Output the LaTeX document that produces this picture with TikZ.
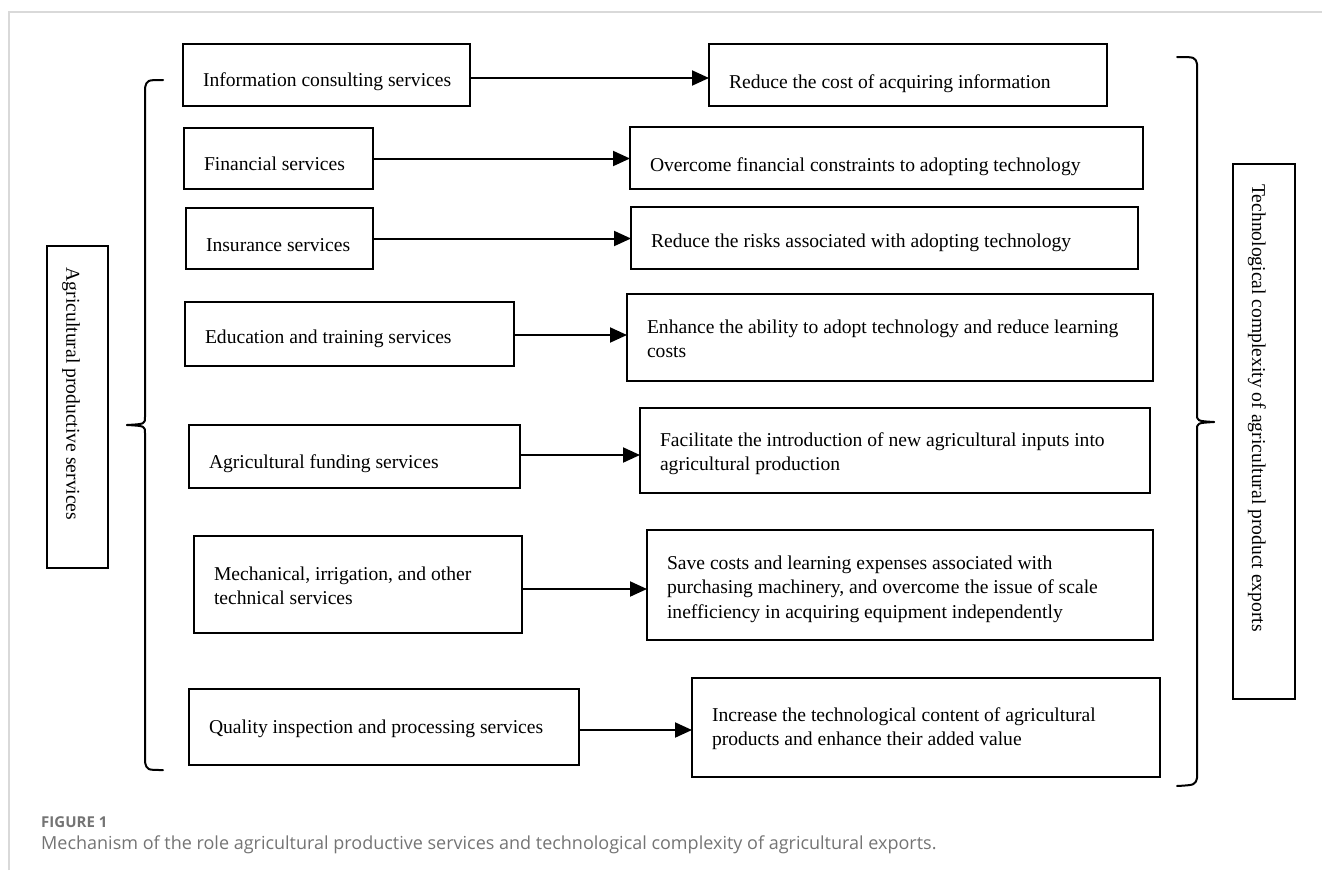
\documentclass[tikz,border=0pt]{standalone}
\usepackage{fontspec}
\setmainfont{Liberation Serif}
\newfontfamily\capfont{Open Sans}
\usetikzlibrary{arrows.meta}
\definecolor{capgray}{HTML}{747474}
\definecolor{framegray}{HTML}{D9D9D9}
\tikzset{
  box/.style={draw=black, line width=1.2pt, inner xsep=20pt, inner ysep=0pt, outer sep=0pt,
    font=\fontsize{19.6}{24.5}\selectfont},
  vbox/.style={draw=black, line width=1.2pt, inner sep=0pt, outer sep=0pt},
  vtext/.style={rotate=-90, inner sep=0pt, font=\fontsize{19.6}{24}\selectfont},
  arr/.style={line width=2pt, -{Triangle[length=17pt,width=15pt]}},
  brace/.style={line width=2pt, line cap=round, line join=round},
}
% name, x1, y1, x2, y2, text shift down, text
\newcommand{\mybox}[7]{%
  \pgfmathsetmacro\bw{#4-#2}\pgfmathsetmacro\bh{#5-#3}\pgfmathsetmacro\tw{#4-#2-40}%
  \node[box, minimum width=\bw pt, minimum height=\bh pt] (#1) at ({(#2+#4)/2},{(#3+#5)/2})
   {\raisebox{-#6pt}[\height][\depth]{\makebox[\tw pt][l]{\begin{tabular}{@{}l@{}}#7\end{tabular}}}};}
\begin{document}
\begin{tikzpicture}[x=1pt,y=-1pt]
\useasboundingbox (0,0) rectangle (1322,870);
% frame
\draw[framegray, line width=1.5pt] (9,870) -- (9,12) -- (1322,12);
% left column
\mybox{a1}{183}{44}{470}{106}{7}{Information consulting services}
\mybox{a2}{184}{128}{373}{189}{7}{Financial services}
\mybox{a3}{186}{208}{373}{269}{8}{Insurance services}
\mybox{a4}{185}{302}{514}{366}{5}{Education and training services}
\mybox{a5}{189}{425}{520}{488}{7}{Agricultural funding services}
\mybox{a6}{194}{536}{522}{633}{3}{Mechanical, irrigation, and other\\technical services}
\mybox{a7}{189}{689}{579}{765}{2}{Quality inspection and processing services}
% right column
\mybox{b1}{709}{44}{1107}{106}{9}{Reduce the cost of acquiring information}
\mybox{b2}{630}{127}{1143}{189}{9}{Overcome financial constraints to adopting technology}
\mybox{b3}{631}{207}{1138}{269}{5}{Reduce the risks associated with adopting technology}
\mybox{b4}{627}{294}{1153}{381}{3}{Enhance the ability to adopt technology and reduce learning\\costs}
\mybox{b5}{640}{408}{1150}{493}{3}{Facilitate the introduction of new agricultural inputs into\\agricultural production}
\mybox{b6}{647}{530}{1153}{640}{4}{Save costs and learning expenses associated with\\purchasing machinery, and overcome the issue of scale\\inefficiency in acquiring equipment independently}
\mybox{b7}{692}{678}{1160}{777}{1}{Increase the technological content of agricultural\\products and enhance their added value}
% arrows (offset below box centre)
\foreach \i/\d in {1/3,2/0,3/0,4/1,5/-1.5,6/4.5,7/3}{
  \draw[arr] ([yshift=-\d pt]a\i.east) -- ([yshift=-\d pt]a\i.east -| b\i.west);}
% left vertical box
\node[vbox, minimum width=61pt, minimum height=322pt] (L) at (77.5,407) {};
\node[vtext] (Lt) at (71,394) {Agricultural productive services};
\draw[line width=2.6pt] (57,568) -- (100,568);
% right vertical box
\node[vbox, minimum width=62pt, minimum height=535pt] (R) at (1264,431.5) {};
\node[vtext] (Rt) at (1257,408) {Technological complexity of agricultural product exports};
\draw[line width=2.6pt] (1244,699) -- (1287,699);
% left brace
\draw[brace] (163,80) .. controls (147,80) .. (145,88) -- (145,417)
  .. controls (145,424) .. (127,425);
\draw[brace] (127,425) .. controls (145,426) .. (145,433) -- (145,762)
  .. controls (147,770) .. (163,770);
% right brace
\draw[brace] (1177,57) .. controls (1195,57) .. (1197,64) -- (1197,414)
  .. controls (1197,421) .. (1214,422);
\draw[brace] (1214,422) .. controls (1197,423) .. (1197,430) -- (1197,778)
  .. controls (1195,785) .. (1177,786);
% caption
\node[anchor=west, inner sep=0pt, text=capgray, font=\capfont\bfseries\fontsize{15}{17}\selectfont] (fig) at (41,822) {FIGURE 1};
\node[anchor=west, inner sep=0pt, text=capgray, font=\capfont\fontsize{18}{21}\selectfont] (cap) at (41,845) {Mechanism of the role agricultural productive services and technological complexity of agricultural exports.};
\end{tikzpicture}
\end{document}
